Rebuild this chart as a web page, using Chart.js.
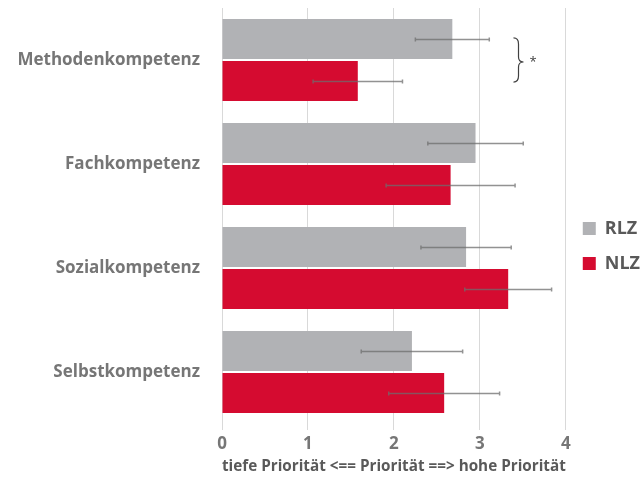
<!DOCTYPE html>
<html>
<head>
<meta charset="utf-8">
<script src="https://cdn.jsdelivr.net/npm/chart.js@4.4.0/dist/chart.umd.min.js"></script>
<style>
  html, body { margin: 0; padding: 0; background: #fff; }
  #wrap { width: 643px; height: 484px; }
</style>
</head>
<body>
<div id="wrap"><canvas id="chart"></canvas></div>
<script>
// categories and values
const categories = ['Methodenkompetenz', 'Fachkompetenz', 'Sozialkompetenz', 'Selbstkompetenz'];
const rlzMeans = [2.68, 2.95, 2.84, 2.21];
const rlzSd = [0.43, 0.555, 0.525, 0.59];
const nlzMeans = [1.58, 2.66, 3.33, 2.585];
const nlzSd = [0.52, 0.75, 0.505, 0.645];
const xTicks = [0, 1, 2, 3, 4];

const textGray = '#767676';
const fontFam = '"Open Sans", sans-serif';

// error bars drawn through the scales
const errorBars = {
  id: 'errorBars',
  afterDatasetsDraw(chart) {
    const ctx = chart.ctx;
    const xs = chart.scales.x;
    ctx.save();
    ctx.strokeStyle = 'rgba(110,110,110,0.75)';
    ctx.lineWidth = 1.5;
    chart.data.datasets.forEach((ds, i) => {
      const meta = chart.getDatasetMeta(i);
      meta.data.forEach((bar, j) => {
        const m = ds.data[j], sd = ds.sd[j];
        const x1 = xs.getPixelForValue(m - sd);
        const x2 = xs.getPixelForValue(m + sd);
        const y = Math.round(bar.y) + 0.5;
        ctx.beginPath();
        ctx.moveTo(x1, y); ctx.lineTo(x2, y);
        ctx.moveTo(x1, y - 2); ctx.lineTo(x1, y + 2);
        ctx.moveTo(x2, y - 2); ctx.lineTo(x2, y + 2);
        ctx.stroke();
      });
    });
    ctx.restore();
  }
};

// curly brace with asterisk next to the first category
const braceMark = {
  id: 'braceMark',
  afterDraw(chart) {
    const ctx = chart.ctx;
    const xs = chart.scales.x;
    const b0 = chart.getDatasetMeta(0).data[0];
    const b1 = chart.getDatasetMeta(1).data[0];
    const x = xs.getPixelForValue(3.45);
    const yTop = b0.y - 1, yBot = b1.y + 1, yMid = (b0.y + b1.y) / 2 + 2;
    const w = 5;
    ctx.save();
    ctx.strokeStyle = '#404040';
    ctx.lineWidth = 1.2;
    ctx.beginPath();
    ctx.moveTo(x - w, yTop);
    ctx.quadraticCurveTo(x, yTop, x, yTop + 6);
    ctx.lineTo(x, yMid - 5);
    ctx.quadraticCurveTo(x, yMid, x + w, yMid);
    ctx.quadraticCurveTo(x, yMid, x, yMid + 5);
    ctx.lineTo(x, yBot - 6);
    ctx.quadraticCurveTo(x, yBot, x - w, yBot);
    ctx.stroke();
    ctx.fillStyle = '#404040';
    ctx.font = '13px ' + fontFam;
    ctx.textAlign = 'left';
    ctx.textBaseline = 'middle';
    ctx.fillText('*', x + 11, yMid);
    ctx.restore();
  }
};

new Chart(document.getElementById('chart'), {
  type: 'bar',
  data: {
    labels: categories,
    datasets: [
      { label: 'RLZ', data: rlzMeans, sd: rlzSd, backgroundColor: '#b1b2b5',
        categoryPercentage: 0.81, barPercentage: 0.95 },
      { label: 'NLZ', data: nlzMeans, sd: nlzSd, backgroundColor: '#d50b30',
        categoryPercentage: 0.81, barPercentage: 0.95 }
    ]
  },
  options: {
    indexAxis: 'y',
    responsive: true,
    maintainAspectRatio: false,
    animation: false,
    layout: { padding: { top: 8, right: -7, left: 0, bottom: 0 } },
    plugins: {
      legend: {
        position: 'right',
        labels: {
          boxWidth: 13, boxHeight: 13, padding: 17,
          color: '#595959',
          font: { family: fontFam, size: 18, weight: 'bold' }
        }
      },
      tooltip: { enabled: false }
    },
    scales: {
      x: {
        min: 0, max: 4,
        afterBuildTicks(axis) { axis.ticks = xTicks.map(v => ({ value: v })); },
        afterFit(axis) { axis.height = 60; },
        grid: { color: '#d9d9d9', drawTicks: true, tickLength: 6 },
        border: { display: false },
        ticks: { color: textGray, padding: 4, font: { family: fontFam, size: 17, weight: 'bold' } },
        title: {
          display: true, text: 'tiefe Priorität <== Priorität ==> hohe Priorität',
          color: '#595959', padding: { top: 0, bottom: 8 },
          font: { family: fontFam, size: 15.6, weight: 'bold' }
        }
      },
      y: {
        afterFit(axis) {
          axis.width = 222;
          axis.paddingTop = 0;
          axis.paddingBottom = 0;
        },
        grid: { display: false },
        border: { display: false },
        ticks: { color: textGray, padding: 14, font: { family: fontFam, size: 17, weight: 'bold' } }
      }
    }
  },
  plugins: [errorBars, braceMark]
});
</script>
</body>
</html>
